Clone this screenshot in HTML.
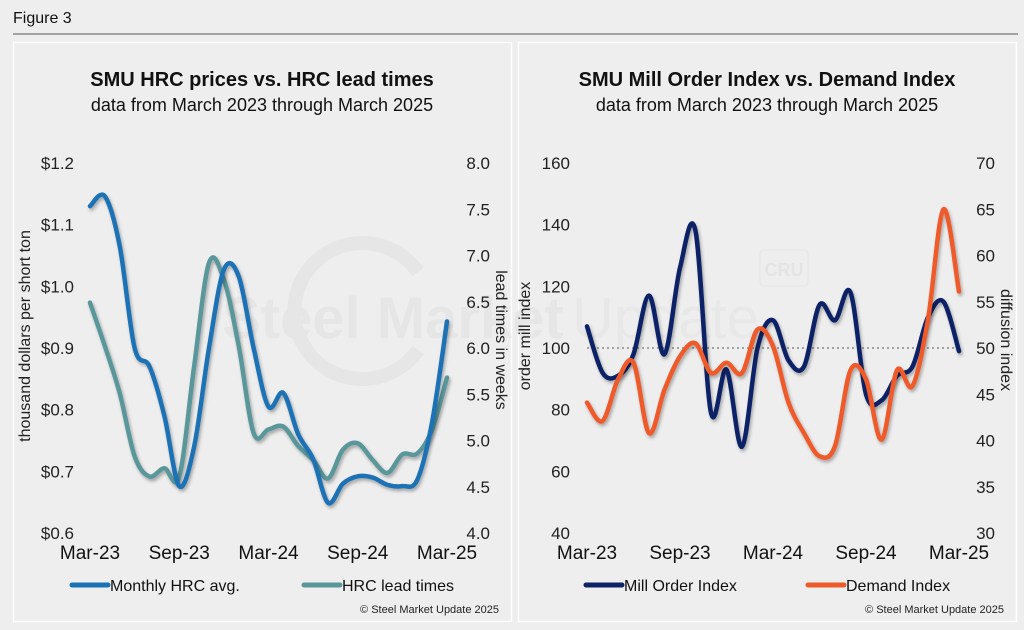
<!DOCTYPE html>
<html><head><meta charset="utf-8">
<style>
body{margin:0;background:#eeeeee;font-family:"Liberation Sans",Arial,sans-serif;}
svg{display:block}
</style></head>
<body>
<svg id="fig" width="1024" height="630" viewBox="0 0 1024 630" xmlns="http://www.w3.org/2000/svg">
<defs>
<filter id="sh" x="-10%" y="-10%" width="120%" height="130%">
<feDropShadow dx="1.5" dy="2.5" stdDeviation="1.5" flood-color="#000" flood-opacity="0.3"/>
</filter>
</defs>
<rect width="1024" height="630" fill="#eeeeee"/>
<text x="13" y="23" font-size="16" fill="#111">Figure 3</text>
<line x1="13" y1="34" x2="1018" y2="34" stroke="#555" stroke-width="1"/>
<rect x="13.5" y="42.5" width="498" height="579" fill="#eeeeee" stroke="#fff" stroke-width="1.5"/>
<rect x="518.5" y="42.5" width="498" height="579" fill="#eeeeee" stroke="#fff" stroke-width="1.5"/>
<g id="wm">
<path d="M418,272 A68,68 0 1 0 418,350" fill="none" stroke="#e6e6e6" stroke-width="14"/>
<text x="222" y="338" font-size="58" font-weight="bold" fill="#e6e6e6">Steel Market</text>
<text x="572" y="338" font-size="58" fill="#e8e8e8">Update</text>
<rect x="760" y="250" width="48" height="36" rx="4" fill="none" stroke="#e6e6e6" stroke-width="1"/>
<text x="784" y="276" font-size="18" font-weight="bold" text-anchor="middle" fill="#e4e4e4">CRU</text>
</g>
<text x="262" y="86" font-size="20" font-weight="bold" text-anchor="middle" fill="#111">SMU HRC prices vs. HRC lead times</text>
<text x="262" y="111" font-size="18" text-anchor="middle" fill="#111">data from March 2023 through March 2025</text>
<text x="767" y="86" font-size="20" font-weight="bold" text-anchor="middle" fill="#111">SMU Mill Order Index vs. Demand Index</text>
<text x="767" y="111" font-size="18" text-anchor="middle" fill="#111">data from March 2023 through March 2025</text>
<g id="left"></g>
<g id="right"></g>
</svg>
<script>
const months = 25;
const xTickLabels = ["Mar-23","Sep-23","Mar-24","Sep-24","Mar-25"];
const hrcPrice = [1.13,1.146,1.065,0.90,0.87,0.79,0.676,0.74,0.90,1.027,1.016,0.90,0.805,0.827,0.76,0.72,0.649,0.68,0.692,0.69,0.678,0.676,0.686,0.78,0.943];
const leadTimes = [6.49,6.02,5.51,4.83,4.61,4.70,4.61,5.80,6.92,6.74,6.02,5.08,5.12,5.15,4.94,4.79,4.59,4.90,4.97,4.79,4.65,4.85,4.86,5.12,5.68];
const leftTicks = ["$0.6","$0.7","$0.8","$0.9","$1.0","$1.1","$1.2"];
const leftTickVals = [0.6,0.7,0.8,0.9,1.0,1.1,1.2];
const leadTickVals = [4.0,4.5,5.0,5.5,6.0,6.5,7.0,7.5,8.0];
const millOrder = [107,92,91,98,117,98,126,138,79,93,68,100,109,96,94,114,109,118,85,83,91,94,110,115,99];
const demandIdx = [44.1,42.1,46.6,48.4,40.8,45.5,49.1,50.5,47.3,48.4,47.3,52,50.2,44.1,40.8,38.3,39.4,47.6,46.6,40.1,47.6,45.9,53.1,65,56.1];
const millTickVals = [40,60,80,100,120,140,160];
const diffTickVals = [30,35,40,45,50,55,60,65,70];

const NS="http://www.w3.org/2000/svg";
function el(tag, attrs, parent, txt){const e=document.createElementNS(NS,tag);for(const k in attrs)e.setAttribute(k,attrs[k]);if(txt!==undefined)e.textContent=txt;parent.appendChild(e);return e;}
function smooth(pts){let d=`M${pts[0][0]},${pts[0][1]}`;for(let i=0;i<pts.length-1;i++){const p0=pts[i-1]||pts[i],p1=pts[i],p2=pts[i+1],p3=pts[i+2]||p2;const t=1/6;d+=` C${p1[0]+(p2[0]-p0[0])*t},${p1[1]+(p2[1]-p0[1])*t} ${p2[0]-(p3[0]-p1[0])*t},${p2[1]-(p3[1]-p1[1])*t} ${p2[0]},${p2[1]}`;}return d;}

function chart(gid, cfg){
  const g=document.getElementById(gid);
  const top=163,bot=533;
  const x=i=>cfg.x0+(cfg.x1-cfg.x0)*i/(months-1);
  const yl=v=>bot-(v-cfg.lmin)/(cfg.lmax-cfg.lmin)*(bot-top);
  const yr=v=>bot-(v-cfg.rmin)/(cfg.rmax-cfg.rmin)*(bot-top);
  cfg.lVals.forEach((v,i)=>{const t=el('text',{x:cfg.lx,y:yl(v)+6,'font-size':17,'text-anchor':'end',fill:'#222'},g,cfg.lLabels[i]);
    
    });
  cfg.rVals.forEach(v=>{const t=el('text',{x:cfg.rx,y:yr(v)+6,'font-size':17,'text-anchor':'end',fill:'#222'},g,cfg.rFmt(v));
    
    });
  xTickLabels.forEach((l,k)=>{const t=el('text',{x:x(k*6),y:559,'font-size':19,'text-anchor':'middle',fill:'#111'},g,l);
    
    });
  let t=el('text',{transform:`translate(${cfg.ltx},${(top+bot)/2-12}) rotate(-90)`,'font-size':16,'text-anchor':'middle',fill:'#222'},g,cfg.lTitle);
  
  
  t=el('text',{transform:`translate(${cfg.rtx},${(top+bot)/2-8}) rotate(90)`,'font-size':16,'text-anchor':'middle',fill:'#222'},g,cfg.rTitle);
  
  
  if(cfg.refLine!==undefined){const l=el('line',{x1:cfg.x0,x2:cfg.x1,y1:yl(cfg.refLine),y2:yl(cfg.refLine),stroke:'#888','stroke-width':1.5,'stroke-dasharray':'2,3'},g);
    
    }
  const p1=el('path',{d:smooth(cfg.s1.map((v,i)=>[x(i),yl(v)])),fill:'none',stroke:cfg.c1,'stroke-width':4.5,'stroke-linecap':'round',filter:'url(#sh)'},g);
  
  
  const p2=el('path',{d:smooth(cfg.s2.map((v,i)=>[x(i),yr(v)])),fill:'none',stroke:cfg.c2,'stroke-width':4.5,'stroke-linecap':'round',filter:'url(#sh)'},g);
  
  
  if(cfg.order==='2first'){g.insertBefore(p2,p1);}
  [[cfg.lg1x,cfg.c1,cfg.l1,cfg.n1],[cfg.lg2x,cfg.c2,cfg.l2,cfg.n2]].forEach(([lx,c,lab,n])=>{
    const ln=el('line',{x1:lx,x2:lx+36,y1:585,y2:585,stroke:c,'stroke-width':5,'stroke-linecap':'round'},g);
    
    
    const tx=el('text',{x:lx+38,y:591,'font-size':16,fill:'#111'},g,lab);
    
    });
  t=el('text',{x:cfg.copyx,y:613,'font-size':11,'text-anchor':'end',fill:'#222'},g,'© Steel Market Update 2025');
  
  
}
chart('left',{x0:90,x1:447,lmin:0.6,lmax:1.2,rmin:4,rmax:8,lVals:leftTickVals,lLabels:leftTicks,rVals:leadTickVals,rFmt:v=>v.toFixed(1),
  lx:74,rx:490,ltx:30,rtx:496,lTitle:'thousand dollars per short ton',rTitle:'lead times in weeks',
  s1:hrcPrice,s2:leadTimes,c1:'#1a72b4',c2:'#5a979b',n1:'monthly-hrc',n2:'hrc-lead-times',l1:'Monthly HRC avg.',l2:'HRC lead times',
  lg1x:72,lg2x:304,copyx:499,order:'2first'});
chart('right',{x0:587,x1:959,lmin:40,lmax:160,rmin:30,rmax:70,lVals:millTickVals,lLabels:millTickVals.map(String),rVals:diffTickVals,rFmt:v=>String(v),
  lx:570,rx:995,ltx:530,rtx:1001,lTitle:'order mill index',rTitle:'diffusion index',
  s1:millOrder,s2:demandIdx,c1:'#0c2466',c2:'#ef5a2a',n1:'mill-order-index',n2:'demand-index',l1:'Mill Order Index',l2:'Demand Index',
  lg1x:586,lg2x:808,copyx:1004,refLine:100});
</script>
</body></html>
